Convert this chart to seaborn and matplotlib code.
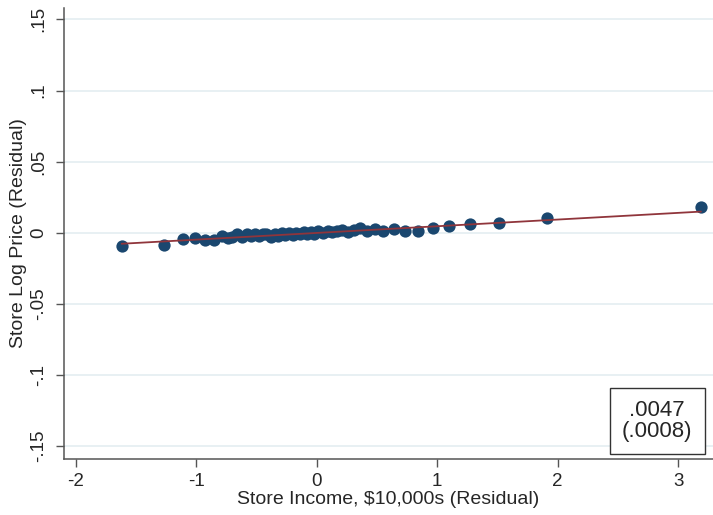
import numpy as np
import pandas as pd
import matplotlib
matplotlib.use("Agg")
import matplotlib.pyplot as plt
import seaborn as sns

# binned residuals
income_resid = [-1.62, -1.27, -1.11, -1.01, -0.93, -0.85,
                -0.79, -0.74, -0.70, -0.66, -0.62, -0.58, -0.55, -0.51, -0.48,
                -0.45, -0.42, -0.38, -0.35, -0.32, -0.29, -0.26, -0.23, -0.20,
                -0.17, -0.14, -0.11, -0.08, -0.05, -0.02, 0.01, 0.05, 0.09,
                0.13, 0.17, 0.21, 0.26, 0.31, 0.36, 0.42, 0.48,
                0.55, 0.645, 0.733, 0.837, 0.961, 1.097, 1.27, 1.515, 1.909, 3.19]
price_resid = [-0.0090, -0.0085, -0.0044, -0.0038, -0.0049, -0.0048,
               -0.0021, -0.0040, -0.0030, -0.0010, -0.0028, -0.0008, -0.0024, -0.0006, -0.0026,
               -0.0012, -0.0007, -0.0029, -0.0009, -0.0022, -0.0005, -0.0019, -0.0003, -0.0015,
               0.0000, -0.0012, 0.0003, -0.0010, 0.0006, -0.0006, 0.0014, 0.0000, 0.0016,
               0.0004, 0.0013, 0.0021, 0.0006, 0.0023, 0.0032, 0.0014, 0.0025,
               0.0010, 0.0026, 0.0014, 0.0014, 0.0035, 0.0051, 0.0063, 0.0072, 0.0106, 0.0181]

# fitted line coefficients
slope = 0.0047
slope_se = 0.0008
intercept = -0.0001

y_ticks = [-0.15, -0.1, -0.05, 0, 0.05, 0.1, 0.15]
y_tick_labels = ["-.15", "-.1", "-.05", "0", ".05", ".1", ".15"]
x_ticks = [-2, -1, 0, 1, 2, 3]

df = pd.DataFrame({"income": income_resid, "price": price_resid})

sns.set_style("white")
plt.rcParams["font.family"] = ["Liberation Sans", "DejaVu Sans"]

fig = plt.figure(figsize=(7.13, 5.15), dpi=100)
ax = fig.add_axes([63.5 / 713, 1 - 459 / 515, (713 - 63.5) / 713, (459 - 8) / 515])

for yt in y_ticks:
    ax.axhline(yt, color="#e6eff2", lw=1.3, zorder=0)

sns.scatterplot(data=df, x="income", y="price", color="#1a476f", s=78,
                edgecolor="#1a476f", linewidth=0, ax=ax, zorder=3)

line_x = np.array([min(income_resid), max(income_resid)])
fit = pd.DataFrame({"income": line_x, "price": intercept + slope * line_x})
sns.lineplot(data=fit, x="income", y="price", color="#90353b", lw=1.3, ax=ax, zorder=4)

ax.set_xlim(-2.103, 3.29)
ax.set_ylim(-0.159, 0.158)
ax.set_xticks(x_ticks)
ax.set_xticklabels([str(t) for t in x_ticks], fontsize=13.5)
ax.set_yticks(y_ticks)
ax.set_yticklabels(y_tick_labels, fontsize=13.5, rotation=90, va="center")
ax.tick_params(axis="both", direction="out", length=6, width=1, color="#555555",
               bottom=True, left=True, pad=4)
ax.tick_params(axis="y", pad=6)

for side in ["top", "right"]:
    ax.spines[side].set_visible(False)
for side in ["left", "bottom"]:
    ax.spines[side].set_color("#555555")
    ax.spines[side].set_linewidth(1.1)

ax.set_xlabel("Store Income, $10,000s (Residual)", fontsize=14, labelpad=1)
ax.set_ylabel("Store Log Price (Residual)", fontsize=14, labelpad=2)

coef_txt = f"{slope:.4f}".replace("0.", ".", 1)
se_txt = "(" + f"{slope_se:.4f}".replace("0.", ".", 1) + ")"
ax.text(0.914, 0.084, coef_txt + "\n" + se_txt,
        transform=ax.transAxes, ha="center", va="center", fontsize=16, linespacing=1.0,
        bbox=dict(boxstyle="square,pad=0.55", facecolor="white", edgecolor="#333333", lw=1))

fig.savefig("out.png", dpi=100)
